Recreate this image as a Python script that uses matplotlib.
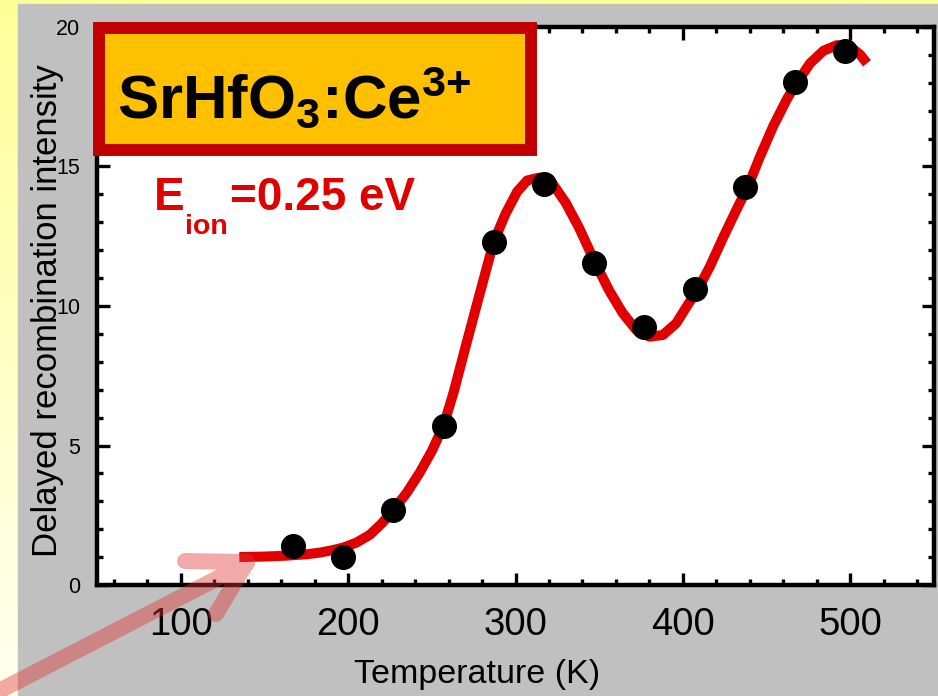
import matplotlib
matplotlib.use("Agg")
import matplotlib.pyplot as plt
import numpy as np
from matplotlib.patches import Rectangle, PathPatch
from matplotlib.path import Path
from matplotlib.ticker import MultipleLocator

plt.rcParams["font.family"] = ["Liberation Sans", "DejaVu Sans"]
plt.rcParams["mathtext.fontset"] = "custom"
plt.rcParams["mathtext.rm"] = "Liberation Sans:bold"
plt.rcParams["mathtext.it"] = "Liberation Sans:bold"
plt.rcParams["mathtext.bf"] = "Liberation Sans:bold"

# measured delayed recombination intensity
temps = [167, 197, 227, 257, 287, 317, 347, 377, 407, 437, 467, 497]
intensity = [1.41, 0.99, 2.69, 5.71, 12.30, 14.36, 11.53, 9.26, 10.60, 14.28, 18.04, 19.15]

# fitted model curve
fit_T = [135, 150, 163, 175, 183, 190, 197, 205, 213, 220, 227, 235, 243, 250,
         257, 263, 270, 278, 287, 294, 301, 307, 314, 322, 330, 338, 348, 356,
         364, 372, 380, 388, 396, 403, 409, 416, 424, 432, 439, 446, 454, 462,
         468, 476, 484, 492, 500, 506, 510]
fit_I = [1.00, 1.02, 1.05, 1.10, 1.16, 1.24, 1.34, 1.52, 1.80, 2.20, 2.69, 3.30,
         4.05, 4.80, 5.71, 6.90, 8.50, 10.30, 12.30, 13.30, 14.10, 14.50, 14.60,
         14.40, 13.70, 12.80, 11.50, 10.55, 9.75, 9.15, 8.90, 8.96, 9.38, 10.05,
         10.60, 11.40, 12.45, 13.45, 14.30, 15.35, 16.45, 17.40, 18.00, 18.70,
         19.15, 19.35, 19.30, 19.00, 18.70]

x_ticks = [100, 200, 300, 400, 500]
y_ticks = [0, 5, 10, 15, 20]

W, H = 938, 696
fig = plt.figure(figsize=(W / 100, H / 100), dpi=100)


def fx(px):
    return px / W


def fy(py):
    return 1 - py / H


# slide background: pale yellow gradient with a grey panel
bg = fig.add_axes([0, 0, 1, 1], zorder=-10)
bg.axis("off")
g = np.linspace(0, 1, 256)[:, None]
img = np.ones((256, 1, 3))
img[..., 2] = 0.60 + 0.34 * g
bg.imshow(img, aspect="auto", extent=[0, 1, 0, 1])
bg.add_patch(Rectangle((18 / W, 0), 1 - 18 / W, 1 - 4 / H, color="#c0c0c0",
                       transform=bg.transAxes))
bg.set_xlim(0, 1)
bg.set_ylim(0, 1)

ax = fig.add_axes([fx(97), fy(585), (934 - 97) / W, (585 - 27) / H])
ax.set_facecolor("white")
ax.plot(fit_T, fit_I, color="#e00000", lw=7.2, solid_capstyle="butt",
        solid_joinstyle="round", zorder=2)
ax.plot(temps, intensity, "o", color="black", ms=17, zorder=3)
ax.set_xlim(50, 550)
ax.set_ylim(0, 20)
ax.set_xticks(x_ticks)
ax.set_yticks(y_ticks)
ax.xaxis.set_minor_locator(MultipleLocator(20))
ax.yaxis.set_minor_locator(MultipleLocator(1))
ax.tick_params(which="both", direction="in", top=True, right=True,
               width=2.4, color="black")
ax.tick_params(which="major", length=9)
ax.tick_params(which="minor", length=4.5)
ax.tick_params(axis="x", labelsize=27.5, pad=16)
ax.tick_params(axis="y", labelsize=15.5, pad=12)
for s in ax.spines.values():
    s.set_linewidth(3.2)

fig.text(fx(47.5), fy(311), "Delayed recombination intensity", rotation=90,
         ha="center", va="center", fontsize=25)
fig.text(fx(477), fy(683), "Temperature (K)", ha="center", va="baseline",
         fontsize=24.5)

# material label box
fig.add_artist(Rectangle((fx(99), fy(150)), (531 - 99) / W, (150 - 28) / H,
                         facecolor="#ffc000", edgecolor="#c00000", linewidth=8.6,
                         transform=fig.transFigure, zorder=5))
fig.text(fx(117), fy(118), r"SrHfO$_3$:Ce$^{3{+}}$", fontsize=44.5,
         fontweight="bold", va="baseline", zorder=6)

red = "#e00000"
fig.text(fx(154), fy(210), "E", color=red, fontsize=33, fontweight="bold",
         va="baseline")
fig.text(fx(185), fy(234), "ion", color=red, fontsize=20.5, fontweight="bold",
         va="baseline")
fig.text(fx(230), fy(210), "=0.25 eV", color=red, fontsize=33,
         fontweight="bold", va="baseline")

# translucent pointer arrow towards the low-temperature plateau
verts = [(-5, 693), (247, 563), (185, 561), (247, 562), (216, 614)]
codes = [Path.MOVETO, Path.LINETO, Path.MOVETO, Path.LINETO, Path.LINETO]
arrow = Path([(fx(x), fy(y)) for x, y in verts], codes)
fig.add_artist(PathPatch(arrow, fill=False, edgecolor=(0.88, 0.2, 0.2, 0.42),
                         linewidth=11.5, capstyle="round", joinstyle="round",
                         transform=fig.transFigure, zorder=10))

fig.savefig("out.png", dpi=100)
